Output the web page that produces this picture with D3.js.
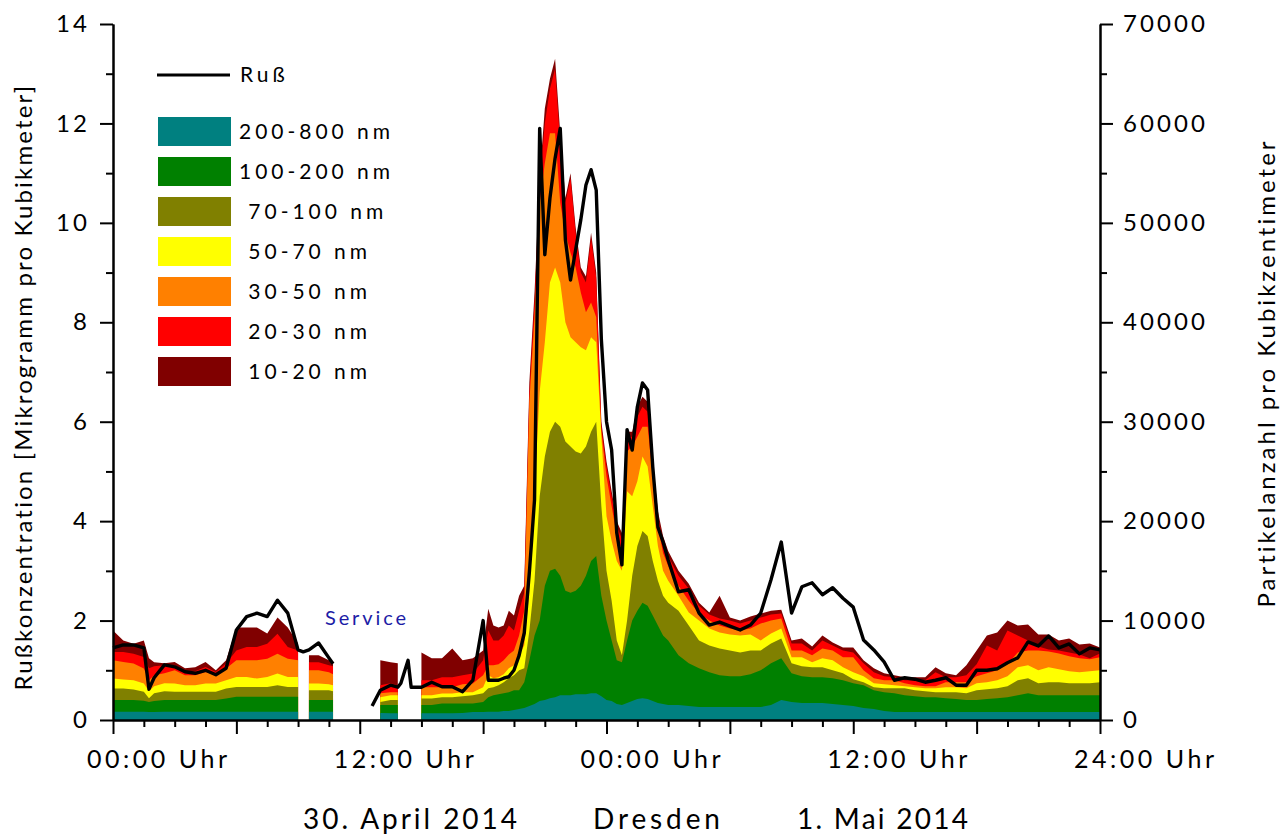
<!DOCTYPE html>
<html>
<head>
<meta charset="utf-8">
<title>Ruß und Partikelanzahl, Dresden 30.04.-01.05.2014</title>
<script src="https://d3js.org/d3.v7.min.js"></script>
<style>
  body { margin: 0; background: #fff; }
  text { font-family: Lato, "Open Sans", sans-serif; fill: #000; }
</style>
</head>
<body>
<script>
// hours since 30. April 2014 00:00
var hours = [
  0, 0.5, 1, 1.5, 1.75, 2, 2.5, 3, 3.5, 4,
  4.5, 5, 5.5, 6, 6.5, 7, 7.5, 8, 8.5, 9,
  9.25, 9.53, 10, 10.5, 10.7, 11, 11.5, 12, 12.5, 12.6,
  13, 13.5, 13.85, 14, 14.35, 14.5, 15, 15.5, 16, 16.5,
  17, 17.5, 18, 18.25, 18.5, 18.75, 19, 19.25, 19.5, 19.75,
  20, 20.25, 20.5, 20.75, 21, 21.25, 21.5, 21.75, 22, 22.25,
  22.5, 22.75, 23, 23.25, 23.5, 23.75, 24, 24.25, 24.5, 24.75,
  25, 25.25, 25.5, 25.75, 26, 26.25, 26.5, 26.75, 27, 27.5,
  28, 28.5, 29, 29.5, 30, 30.5, 31, 31.5, 32, 32.5,
  33, 33.5, 34, 34.5, 35, 35.5, 36, 36.5, 37, 37.5,
  38, 38.5, 39, 39.5, 40, 40.5, 41, 41.5, 42, 42.5,
  43, 43.5, 44, 44.5, 45, 45.5, 46, 46.5, 47, 47.5,
  48
];

// particles per cm3 in each size class (null = no measurement)
var p200_800 = [
  830, 830, 830, 830, 800, 800, 830, 830, 830, 830,
  830, 830, 830, 830, 830, 830, 830, 830, 830, 830,
  null, 830, 830, 830, 830, null, null, null, null, null,
  700, 670, 670, null, null, null, 670, 670, 670, 670,
  700, 800, 800, 830, 830, 830, 900, 900, 1000, 1100,
  1200, 1400, 1600, 1900, 2000, 2200, 2300, 2500, 2500, 2500,
  2600, 2600, 2600, 2700, 2700, 2400, 2000, 1900, 1600, 1500,
  1700, 1900, 2100, 2200, 2100, 1900, 1700, 1600, 1500, 1500,
  1400, 1300, 1300, 1300, 1300, 1300, 1300, 1300, 1500, 2000,
  1800, 1700, 1700, 1700, 1600, 1500, 1400, 1200, 1100, 900,
  800, 800, 800, 800, 800, 800, 800, 800, 800, 800,
  800, 800, 800, 800, 800, 800, 800, 800, 800, 800,
  800
];
var p100_200 = [
  1170, 1170, 1170, 1100, 1000, 1100, 1170, 1170, 1170, 1170,
  1170, 1170, 1340, 1500, 1500, 1500, 1500, 1500, 1500, 1500,
  null, 1170, 1170, 1170, 1170, null, null, null, null, null,
  800, 830, 830, null, null, null, 830, 830, 1000, 1000,
  970, 870, 1000, 1470, 1670, 1770, 1800, 1900, 2000, 1900,
  2600, 4600, 6900, 8100, 11500, 12800, 12900, 12000, 10500, 10300,
  10400, 10900, 11900, 13300, 13800, 10100, 8000, 6100, 4400, 4300,
  6300, 8100, 8900, 9600, 9400, 8600, 7800, 6900, 6500, 5000,
  4300, 3900, 3500, 3200, 3100, 3100, 3300, 3700, 4200, 4200,
  2900, 2700, 2600, 2600, 2600, 2500, 2300, 2300, 1900, 1900,
  1900, 1700, 1600, 1500, 1500, 1400, 1300, 1200, 1200, 1300,
  1400, 1500, 1700, 1900, 1700, 1700, 1700, 1700, 1700, 1700,
  1700
];
var p70_100 = [
  1170, 1170, 1070, 900, 400, 800, 900, 830, 830, 830,
  830, 830, 1000, 1000, 1000, 1000, 1000, 1170, 1000, 1000,
  null, 1000, 1000, 1000, 900, null, null, null, null, null,
  300, 500, 500, null, null, null, 670, 670, 630, 630,
  730, 830, 900, 900, 800, 900, 1100, 1400, 1500, 2000,
  1400, 3000, 5500, 12500, 13000, 14000, 14800, 15000, 15000, 14700,
  14000, 13300, 13000, 13000, 13500, 9000, 5000, 4000, 2000, 700,
  2000, 4500, 6500, 7200, 7000, 5500, 4500, 4000, 3800, 4500,
  3800, 2800, 2700, 2700, 2600, 2400, 2400, 2000, 2000, 2000,
  1000, 1000, 1000, 1000, 800, 700, 400, 300, 300, 400,
  500, 700, 600, 600, 500, 600, 700, 700, 1000, 1000,
  1000, 1100, 1500, 1500, 1200, 1300, 1300, 1200, 1200, 1200,
  1300
];
var p50_70 = [
  1000, 900, 930, 840, 700, 700, 800, 840, 670, 670,
  840, 840, 830, 1000, 1000, 840, 1000, 1170, 1000, 1000,
  null, 670, 670, 600, 600, null, null, null, null, null,
  500, 500, 500, null, null, null, 330, 330, 370, 370,
  400, 300, 600, 1300, 900, 800, 800, 1000, 1000, 1500,
  2300, 4000, 9000, 10500, 11500, 15000, 15500, 14500, 12000, 11000,
  11000, 10700, 9700, 9500, 8000, 7000, 5500, 6000, 8000, 8500,
  13000, 8000, 6500, 7500, 7000, 5500, 3500, 2500, 2200, 1500,
  1300, 2000, 1700, 1600, 1600, 1700, 1600, 1000, 1000, 1000,
  600, 900, 500, 900, 1000, 600, 700, 600, 400, 400,
  300, 200, 300, 300, 400, 500, 500, 500, 700, 700,
  800, 1000, 1300, 1300, 1300, 1500, 1300, 1200, 1100, 1200,
  1200
];
var p30_50 = [
  1830, 1760, 1670, 1500, 1100, 1100, 1000, 1330, 1000, 1000,
  1160, 830, 1170, 1670, 1670, 1830, 1840, 2000, 1840, 1670,
  null, 1330, 1330, 1200, 1100, null, null, null, null, null,
  400, 300, 300, null, null, null, 800, 800, 630, 630,
  800, 870, 1200, 1000, 1300, 1300, 1400, 1400, 1500, 2000,
  3500, 19000, 17500, 19000, 18000, 15000, 13500, 8000, 9000, 8500,
  7500, 5500, 3800, 3500, 2500, 500, 4000, 3500, 2500, 2000,
  4000, 5000, 4500, 3000, 4000, 3000, 2000, 1800, 1500, 1000,
  1200, 700, 800, 700, 600, 500, 600, 1700, 1300, 1000,
  700, 700, 700, 1000, 1000, 1000, 1500, 600, 500, 400,
  500, 300, 200, 200, 200, 500, 500, 600, 700, 900,
  1000, 1200, 1500, 1500, 2000, 1600, 1600, 1500, 1400, 1200,
  1300
];
var p20_30 = [
  830, 1000, 1000, 1160, 1200, 900, 800, 500, 400, 400,
  500, 330, 500, 1000, 1330, 1330, 1500, 2000, 1160, 1000,
  null, 800, 800, 700, 800, null, null, null, null, null,
  800, 900, 700, null, null, null, 700, 700, 1000, 1000,
  900, 1000, 1500, 3500, 2500, 2400, 2500, 2900, 2000, 2500,
  1800, 1000, 1500, 2000, 4000, 4500, 6500, 6000, 3000, 7500,
  3500, 2000, 3000, 6500, 4000, 500, 1000, 1000, 1000, 1200,
  1500, 1000, 2000, 2000, 1500, 1000, 1000, 1200, 1000, 1000,
  1200, 800, 600, 700, 800, 700, 800, 600, 600, 500,
  700, 700, 500, 800, 500, 700, 500, 700, 600, 400,
  300, 300, 500, 600, 1400, 500, 500, 700, 1200, 2800,
  2000, 3400, 1700, 1000, 400, 200, 300, 400, 400, 100,
  400
];
var p10_20 = [
  2170, 1170, 1000, 1670, 1000, 400, 200, 330, 300, 400,
  500, 170, 330, 2300, 1970, 1970, 1030, 1630, 1970, 700,
  null, 700, 700, 500, 300, null, null, null, null, null,
  2500, 2100, 2200, null, null, null, 2800, 2200, 1900, 2900,
  1500, 1530, 1000, 2200, 1500, 1300, 1000, 1500, 1500, 1500,
  700, 1000, 1000, 600, 1500, 1000, 1000, 1000, 500, 500,
  500, 500, 600, 500, 500, 500, 500, 500, 500, 600,
  500, 500, 1000, 1000, 1000, 500, 500, 500, 500, 500,
  500, 300, 200, 2300, 300, 300, 400, 400, 400, 400,
  300, 500, 400, 500, 300, 300, 500, 300, 400, 300,
  200, 300, 300, 300, 500, 400, 200, 1000, 1400, 1000,
  1800, 1000, 1000, 1600, 1200, 1500, 1000, 1400, 1000, 1500,
  600
];

// soot concentration in microgram per m3
var russ = [
  1.45, 1.51, 1.51, 1.45, 0.62, 0.85, 1.11, 1.07, 0.97, 0.94,
  1.00, 0.91, 1.04, 1.81, 2.08, 2.15, 2.08, 2.41, 2.15, 1.41,
  1.37, 1.41, 1.55, 1.25, 1.13, null, null, null, null, 0.28,
  0.60, 0.70, 0.66, 0.74, 1.20, 0.66, 0.66, 0.76, 0.67, 0.67,
  0.57, 0.80, 2.00, 0.80, 0.80, 0.80, 0.84, 0.87, 1.00, 1.30,
  1.75, 2.98, 4.43, 11.9, 9.36, 10.5, 11.3, 11.9, 9.66, 8.85,
  9.46, 10.06, 10.76, 11.07, 10.66, 7.65, 6.0, 5.43, 3.76, 3.12,
  5.84, 5.43, 6.30, 6.78, 6.64, 5.09, 3.88, 3.58, 3.22, 2.58,
  2.62, 2.15, 1.91, 1.97, 1.89, 1.81, 1.91, 2.15, 2.82, 3.58,
  2.15, 2.68, 2.76, 2.52, 2.66, 2.45, 2.27, 1.61, 1.41, 1.17,
  0.80, 0.85, 0.82, 0.76, 0.80, 0.85, 0.70, 0.70, 1.00, 1.00,
  1.03, 1.15, 1.25, 1.57, 1.49, 1.69, 1.45, 1.53, 1.33, 1.45,
  1.41
];

var sizeLabels = ["200-800 nm", "100-200 nm", " 70-100 nm", " 50-70 nm", " 30-50 nm", " 20-30 nm", " 10-20 nm"];
var sizeColors = ["#008080", "#008000", "#808000", "#ffff00", "#ff8000", "#ff0000", "#800000"];
var sizeSeries = [p200_800, p100_200, p70_100, p50_70, p30_50, p20_30, p10_20];

var leftTicks = [0, 2, 4, 6, 8, 10, 12, 14];
var rightTicks = [0, 10000, 20000, 30000, 40000, 50000, 60000, 70000];
var timeTicks = [0, 12, 24, 36, 48];
var timeLabels = ["00:00 Uhr", "12:00 Uhr", "00:00 Uhr", "12:00 Uhr", "24:00 Uhr"];
var dateLabels = ["30. April 2014", "Dresden", "1. Mai 2014"];

var width = 1286, height = 837;
var margins = { top: 24, bottom: 117, left: 113, right: 186 };

var svg = d3.select("body").append("svg")
  .attr("width", width)
  .attr("height", height);

svg.append("rect").attr("width", width).attr("height", height).attr("fill", "#fff");

var xScale = d3.scaleLinear().domain([0, 48]).range([margins.left, width - margins.right]);
var yLeft = d3.scaleLinear().domain([0, 14]).range([height - margins.bottom, margins.top]);
var yRight = d3.scaleLinear().domain([0, 70000]).range([height - margins.bottom, margins.top]);

// rows for the stack
var rows = hours.map(function(h, i) {
  var r = { h: h, ok: sizeSeries[0][i] !== null, r: russ[i] };
  sizeSeries.forEach(function(s, j) { r["k" + j] = s[i] === null ? 0 : s[i]; });
  return r;
});

var keys = sizeSeries.map(function(s, j) { return "k" + j; });
var stacked = d3.stack().keys(keys)(rows);

// each layer is filled down to zero, top layers first, so no seams show
var area = d3.area()
  .defined(function(d) { return d.data.ok; })
  .x(function(d) { return xScale(d.data.h); })
  .y0(yRight(0))
  .y1(function(d) { return yRight(d[1]); });

svg.append("g").selectAll("path")
  .data(stacked.slice().reverse())
  .enter()
  .append("path")
  .attr("d", area)
  .attr("fill", function(d) { return sizeColors[d.index]; });

// soot line
var line = d3.line()
  .defined(function(d) { return d.r !== null; })
  .x(function(d) { return xScale(d.h); })
  .y(function(d) { return yLeft(d.r); });

svg.append("path")
  .datum(rows)
  .attr("d", line)
  .attr("fill", "none")
  .attr("stroke", "#000")
  .attr("stroke-width", 3.4)
  .attr("stroke-linejoin", "round");

// axes
function styleAxis(g) {
  g.selectAll("path, line").attr("stroke", "#000").attr("stroke-width", 2);
  g.selectAll("text").style("font-size", "24px").style("font-family", "Lato, sans-serif");
}

var leftMinor = d3.range(1, 14, 2);
svg.append("g").attr("transform", "translate(" + margins.left + ",0)")
  .call(d3.axisLeft(yLeft).tickValues(leftMinor).tickSize(7).tickSizeOuter(0).tickFormat(""))
  .call(styleAxis);
var leftAxis = svg.append("g").attr("transform", "translate(" + margins.left + ",0)")
  .call(d3.axisLeft(yLeft).tickValues(leftTicks).tickSize(13).tickSizeOuter(0).tickPadding(10).tickFormat(d3.format("d")))
  .call(styleAxis);

var rightMinor = d3.range(5000, 70000, 10000);
var xRight = width - margins.right;
svg.append("g").attr("transform", "translate(" + xRight + ",0)")
  .call(d3.axisRight(yRight).tickValues(rightMinor).tickSize(7).tickSizeOuter(0).tickFormat(""))
  .call(styleAxis);
var rightAxis = svg.append("g").attr("transform", "translate(" + xRight + ",0)")
  .call(d3.axisRight(yRight).tickValues(rightTicks).tickSize(13).tickSizeOuter(0).tickPadding(10).tickFormat(d3.format("d")))
  .call(styleAxis);

var xMinor = d3.range(0, 48.01, 1.5).filter(function(v) { return v % 6 !== 0; });
var xBase = height - margins.bottom;
svg.append("g").attr("transform", "translate(0," + xBase + ")")
  .call(d3.axisBottom(xScale).tickValues(xMinor).tickSize(7).tickSizeOuter(0).tickFormat(""))
  .call(styleAxis);
svg.append("g").attr("transform", "translate(0," + xBase + ")")
  .call(d3.axisBottom(xScale).tickValues(d3.range(0, 48.01, 6)).tickSize(14).tickSizeOuter(0).tickFormat(""))
  .call(styleAxis);

// stretch text to the wide spacing of the original lettering
function spread(sel, target) {
  sel.each(function() {
    var n = this.getNumberOfChars();
    var w = this.getComputedTextLength();
    d3.select(this).style("letter-spacing", ((target - w) / (n - 1)) + "px");
  });
}

var rLabel = rightAxis.selectAll("text");
var ls = (82 - rLabel.filter(function(d) { return d === 70000; }).node().getComputedTextLength()) / 4;
rLabel.style("letter-spacing", ls + "px");
leftAxis.selectAll("text").style("letter-spacing", ls + "px");

svg.append("g").selectAll("text")
  .data(timeTicks)
  .enter()
  .append("text")
  .attr("x", function(d) { return xScale(d) - 26; })
  .attr("y", 768)
  .style("font-size", "25px")
  .text(function(d, i) { return timeLabels[i]; })
  .call(spread, 140);

var dateX = [303, 593, 797];
var dateW = [214, 127, 171];
dateLabels.forEach(function(t, i) {
  svg.append("text")
    .attr("x", dateX[i])
    .attr("y", 829)
    .style("font-size", "28px")
    .text(t)
    .call(spread, dateW[i]);
});

// axis titles
svg.append("text")
  .attr("transform", "translate(22,387) rotate(-90)")
  .attr("text-anchor", "middle")
  .attr("dominant-baseline", "central")
  .style("font-size", "24px")
  .text("Rußkonzentration [Mikrogramm pro Kubikmeter]")
  .call(spread, 605);

svg.append("text")
  .attr("transform", "translate(1265,373) rotate(-90)")
  .attr("text-anchor", "middle")
  .attr("dominant-baseline", "central")
  .style("font-size", "24px")
  .text("Partikelanzahl pro Kubikzentimeter")
  .call(spread, 467);

svg.append("text")
  .attr("x", 325)
  .attr("y", 625)
  .style("font-size", "20px")
  .style("fill", "#1c1ca6")
  .text("Service")
  .call(spread, 81);

// legend
var legend = svg.append("g");
legend.append("line")
  .attr("x1", 157).attr("x2", 230)
  .attr("y1", 75).attr("y2", 75)
  .attr("stroke", "#000").attr("stroke-width", 3);
var russLabel = legend.append("text")
  .attr("x", 240).attr("y", 82)
  .style("font-size", "21px")
  .text("Ruß");

legend.selectAll("rect")
  .data(sizeLabels)
  .enter()
  .append("rect")
  .attr("x", 158)
  .attr("y", function(d, i) { return 117 + 40 * i; })
  .attr("width", 73)
  .attr("height", 29)
  .attr("fill", function(d, i) { return sizeColors[i]; });

var legendText = legend.selectAll("text.size")
  .data(sizeLabels)
  .enter()
  .append("text")
  .classed("size", true)
  .attr("x", 239)
  .attr("y", function(d, i) { return 139 + 40 * i; })
  .attr("xml:space", "preserve")
  .style("white-space", "pre")
  .style("font-size", "21px")
  .text(function(d) { return d; });

var first = legendText.filter(function(d, i) { return i === 0; }).node();
var lsLegend = (151 - first.getComputedTextLength()) / 9;
legendText.style("letter-spacing", lsLegend + "px");
russLabel.style("letter-spacing", lsLegend + "px");
</script>
</body>
</html>
